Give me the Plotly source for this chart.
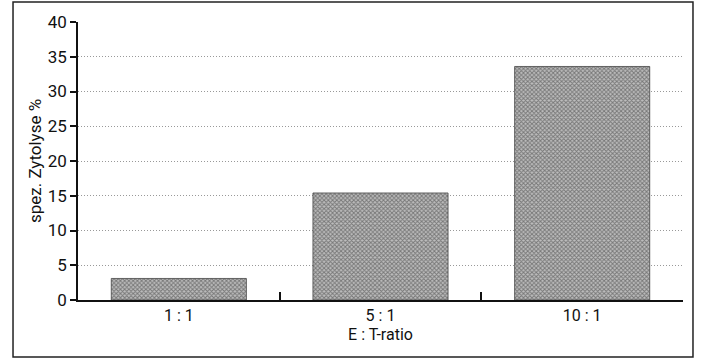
import plotly.graph_objects as go

categories = ["1 : 1", "5 : 1", "10 : 1"]
values = [3.1, 15.4, 33.6]
y_ticks = [0, 5, 10, 15, 20, 25, 30, 35, 40]

FONT = "Roboto, Liberation Sans, sans-serif"

fig = go.Figure()
fig.add_trace(go.Bar(
    x=categories, y=values, width=0.67,
    marker=dict(
        color="#b0b0b0",
        line=dict(color="#444444", width=0.8),
        pattern=dict(shape="x", size=3, solidity=0.55, fgcolor="#333333", bgcolor="#bdbdbd"),
    ),
))

fig.update_layout(
    width=701, height=362,
    margin=dict(l=78, r=18, t=22, b=62),
    paper_bgcolor="white", plot_bgcolor="white",
    showlegend=False,
    font=dict(family=FONT, color="#111111"),
)
fig.update_xaxes(
    range=[-0.5, 2.5], tickson="boundaries",
    showline=True, linecolor="#111111", linewidth=1.5,
    ticks="inside", ticklen=8, tickcolor="#111111", tickwidth=1.5,
    tickfont=dict(size=16, family=FONT),
    title=dict(text="E : T-ratio", font=dict(size=16, family=FONT), standoff=4),
    showgrid=False,
)
fig.update_yaxes(
    range=[0, 40], tickvals=y_ticks,
    showline=True, linecolor="#111111", linewidth=1.5,
    ticks="outside", ticklen=6, tickcolor="#111111", tickwidth=1.5,
    tickfont=dict(size=17, family=FONT),
    title=dict(text="spez. Zytolyse %", font=dict(size=17, family=FONT), standoff=2),
    showgrid=True, gridcolor="#999999", griddash="1px,2px", gridwidth=1,
    zeroline=False,
)
# outer frame
fig.add_shape(type="rect", xref="paper", yref="paper",
              x0=-0.1074, x1=1.0165, y0=-0.205, y1=1.072,
              line=dict(color="#222222", width=1.5), fillcolor="rgba(0,0,0,0)")

fig.write_html("out.html",
               config={"displayModeBar": False},
               post_script="document.body.style.margin='0';document.body.style.overflow='hidden';")
